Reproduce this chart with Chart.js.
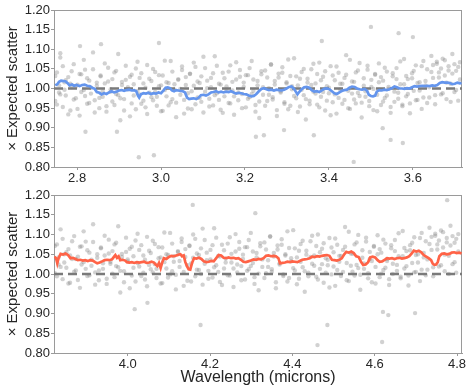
<!DOCTYPE html>
<html><head><meta charset="utf-8">
<script src="https://cdn.jsdelivr.net/npm/chart.js@4.4.1/dist/chart.umd.min.js"></script>
<style>
html,body{margin:0;padding:0;background:#fff;width:471px;height:392px;overflow:hidden}
canvas{position:absolute;left:0}
#c1{top:0;width:471px;height:190px}
#c2{top:185px;width:471px;height:207px}
</style></head>
<body>
<canvas id="c1" width="471" height="190"></canvas>
<canvas id="c2" width="471" height="207"></canvas>
<script>
// ---------- tick labels ----------
const yTicks = [0.80,0.85,0.90,0.95,1.00,1.05,1.10,1.15,1.20];
const topXTicks = [2.8,3.0,3.2,3.4,3.6];
const botXTicks = [4.0,4.2,4.4,4.6,4.8];
const topXRange = [2.745, 3.717];
const botXRange = [3.821, 4.812];
const yRange = [0.80, 1.20];
const refLevel = 1.0;

// ---------- top panel scatter ----------
const topScatterX = [2.748,2.752,2.757,2.760,2.766,2.770,2.773,2.779,2.784,2.787,
2.792,2.797,2.801,2.806,2.810,2.816,2.819,2.824,2.829,2.833,
2.838,2.842,2.847,2.853,2.856,2.861,2.866,2.870,2.874,2.880,
2.884,2.889,2.893,2.898,2.903,2.907,2.912,2.916,2.921,2.926,
2.930,2.935,2.940,2.944,2.949,2.953,2.958,2.963,2.967,2.972,
2.977,2.981,2.986,2.990,2.995,3.000,3.004,3.009,3.013,3.018,
3.023,3.027,3.032,3.036,3.041,3.046,3.050,3.055,3.059,3.064,
3.069,3.073,3.078,3.082,3.087,3.092,3.096,3.101,3.105,3.110,
3.115,3.119,3.124,3.128,3.133,3.138,3.142,3.147,3.151,3.156,
3.161,3.165,3.170,3.174,3.179,3.184,3.188,3.193,3.197,3.202,
3.207,3.211,3.216,3.220,3.225,3.230,3.234,3.239,3.243,3.248,
3.253,3.257,3.262,3.266,3.271,3.276,3.280,3.285,3.289,3.294,
3.299,3.303,3.308,3.312,3.317,3.322,3.326,3.331,3.335,3.340,
3.345,3.349,3.354,3.358,3.363,3.368,3.372,3.377,3.381,3.386,
3.391,3.395,3.400,3.404,3.409,3.414,3.418,3.423,3.427,3.432,
3.437,3.441,3.446,3.450,3.455,3.460,3.464,3.469,3.473,3.478,
3.483,3.487,3.492,3.496,3.501,3.506,3.510,3.515,3.519,3.524,
3.529,3.533,3.538,3.542,3.547,3.552,3.556,3.561,3.565,3.570,
3.575,3.579,3.584,3.588,3.593,3.598,3.602,3.607,3.611,3.616,
3.621,3.625,3.630,3.634,3.639,3.644,3.648,3.653,3.657,3.662,
3.667,3.671,3.676,3.680,3.685,3.690,3.694,3.699,3.703,3.708,3.712];
const topScatterA = [1.032,0.959,1.008,0.985,1.057,0.997,1.021,0.934,1.012,1.044,
0.972,1.005,0.948,1.037,0.991,1.073,0.981,1.026,0.963,1.002,
1.049,0.939,1.015,0.976,1.031,0.993,1.064,0.955,1.018,0.998,
0.967,1.041,0.986,1.088,0.975,1.009,0.944,1.022,1.003,0.929,
1.035,0.982,1.051,0.994,1.027,0.961,1.013,0.952,1.060,0.989,
1.019,0.970,1.042,0.979,1.006,0.942,1.033,0.996,1.016,0.957,
1.070,0.973,1.011,0.964,1.024,0.999,1.047,0.936,1.029,0.988,
1.038,0.947,1.007,1.055,0.977,1.014,0.966,1.081,0.992,1.020,
0.954,1.003,1.039,0.983,1.058,0.971,1.010,0.938,1.026,0.995,
1.043,0.962,1.017,0.980,1.067,0.990,1.030,0.950,1.004,1.034,
0.974,1.052,0.986,1.023,0.958,1.008,0.925,1.036,0.984,1.046,
0.968,1.001,1.061,0.978,1.019,0.945,1.028,0.993,1.040,0.965,
1.013,1.074,0.956,1.006,0.981,1.031,0.940,1.025,0.997,1.050,
0.973,1.015,0.960,1.009,1.063,0.987,1.037,0.952,1.021,0.991,
1.044,0.969,1.002,0.932,1.033,0.985,1.056,0.976,1.012,0.961,
1.027,1.085,0.994,0.948,1.018,0.972,1.041,0.989,1.065,0.964,
1.007,0.979,1.048,0.955,1.022,0.999,1.035,0.942,1.016,1.029,
0.967,1.053,0.982,1.004,0.953,1.039,0.992,1.024,0.974,1.069,
0.959,1.011,1.032,0.986,0.937,1.026,1.045,0.970,1.014,0.995,
1.057,0.977,1.019,0.963,1.003,1.042,1.060,0.983,1.068,1.028,
1.051,0.988,1.072,1.015,1.046,0.966,1.038,1.062,0.996,1.055,1.023];
const topScatterB = [0.968,1.041,0.990,1.079,0.953,1.016,0.982,1.029,0.944,1.004,
1.062,0.975,1.010,0.931,1.036,0.996,1.048,0.961,1.020,0.987,
1.092,0.970,1.007,0.950,1.033,0.979,1.013,0.941,1.053,0.992,
1.024,0.958,1.045,0.983,0.919,1.017,0.973,1.058,0.998,1.030,
0.962,1.011,0.947,1.068,0.985,1.039,0.969,1.002,0.935,1.025,
0.978,1.050,0.991,0.956,1.034,1.008,0.943,1.071,0.980,1.014,
0.965,1.043,0.997,0.927,1.022,0.984,1.056,0.971,1.009,0.949,
1.037,0.993,1.066,0.960,1.018,0.976,1.031,0.939,1.052,1.001,
0.974,1.027,0.957,1.082,0.988,1.012,0.946,1.040,0.980,1.005,
0.963,1.059,0.995,0.933,1.023,0.970,1.047,0.986,1.015,0.952,
1.034,0.978,1.070,0.994,0.941,1.019,0.967,1.044,1.003,0.956,
1.028,0.984,1.061,0.972,1.010,0.930,1.038,0.990,1.054,0.961,
1.016,0.947,1.032,0.998,1.077,0.975,1.008,0.954,1.042,0.983,
0.921,1.025,0.969,1.049,0.992,1.013,0.959,1.066,0.979,1.030,
0.944,1.006,0.988,1.057,0.965,1.021,0.936,1.040,0.997,1.012,
0.971,1.035,0.950,1.073,0.987,1.017,0.962,1.046,0.981,0.926,
1.026,0.993,1.058,0.968,1.004,0.945,1.037,0.984,1.064,0.958,
1.020,0.976,1.043,0.999,0.938,1.031,0.966,1.052,0.989,1.011,
0.955,1.075,0.980,1.024,0.962,1.039,0.994,1.059,0.971,1.016,
0.948,1.070,1.008,1.049,0.977,1.083,1.027,0.960,1.063,1.041,
0.985,1.076,1.033,0.973,1.057,1.012,1.088,0.991,1.045,0.969,1.067];
const topOutlierX = [2.760,2.807,2.857,2.995,2.820,2.895,2.947,2.983,3.459,3.500,3.566,3.226,3.383,3.245,3.576,3.547,3.293,3.364,3.528,3.600];
const topOutlierY = [1.090,1.108,1.113,1.116,0.890,0.890,0.825,0.830,0.813,1.157,1.141,0.877,1.121,0.881,0.861,0.869,0.894,0.881,0.899,1.131];

// ---------- top panel running line (blue) ----------
const blueX = [2.748,2.753,2.757,2.762,2.768,2.773,2.778,2.782,2.788,2.793,2.799,2.806,2.812,2.818,2.824,2.830,2.836,2.842,2.847,2.853,
2.858,2.864,2.870,2.876,2.882,2.888,2.894,2.900,2.906,2.912,2.918,2.924,2.930,2.936,2.941,2.945,2.948,2.952,2.958,2.964,
2.970,2.976,2.982,2.988,2.994,3.000,3.006,3.011,3.016,3.021,3.026,3.031,3.036,3.041,3.046,3.052,3.057,3.062,3.067,3.072,
3.078,3.084,3.090,3.095,3.101,3.107,3.113,3.119,3.125,3.131,3.137,3.143,3.149,3.155,3.161,3.167,3.173,3.179,3.185,3.191,
3.197,3.203,3.209,3.215,3.221,3.227,3.233,3.239,3.245,3.251,3.257,3.263,3.269,3.275,3.281,3.287,3.293,3.299,3.305,3.311,
3.317,3.321,3.325,3.329,3.335,3.341,3.347,3.353,3.359,3.365,3.371,3.377,3.383,3.389,3.395,3.401,3.407,3.413,3.419,3.425,
3.431,3.437,3.443,3.449,3.455,3.461,3.467,3.473,3.479,3.485,3.491,3.495,3.500,3.505,3.510,3.514,3.520,3.526,3.532,3.538,
3.544,3.550,3.556,3.562,3.568,3.574,3.580,3.586,3.592,3.598,3.604,3.610,3.616,3.622,3.628,3.634,3.640,3.646,3.652,3.658,
3.664,3.670,3.676,3.682,3.688,3.694,3.700,3.706,3.712,3.716];
const blueY = [1.008,1.011,1.017,1.020,1.019,1.018,1.013,1.008,1.010,1.007,1.009,1.006,1.009,1.010,1.007,1.006,1.002,0.999,0.991,0.989,
0.985,0.988,0.986,0.990,0.993,0.990,0.992,0.995,0.996,0.994,0.996,0.997,0.995,0.996,0.993,0.982,0.977,0.985,0.988,0.987,
0.989,0.986,0.988,0.987,0.990,0.988,0.995,1.002,1.003,1.001,0.995,0.993,0.996,0.995,0.994,0.993,0.990,0.977,0.973,0.974,
0.975,0.973,0.977,0.983,0.984,0.982,0.985,0.990,0.991,0.993,0.990,0.992,0.990,0.992,0.991,0.993,0.990,0.987,0.989,0.988,
0.986,0.985,0.982,0.980,0.981,0.986,0.993,0.999,1.001,0.998,0.996,0.997,0.995,0.997,0.996,0.995,0.997,1.000,1.004,1.005,
0.999,0.992,0.985,0.991,0.998,1.003,1.004,1.002,0.996,0.992,0.993,0.991,0.995,0.999,1.000,0.998,0.993,0.988,0.986,0.990,
0.994,0.996,0.997,1.002,1.005,1.004,1.000,0.998,0.997,0.999,0.994,0.984,0.981,0.980,0.982,0.992,0.996,0.995,0.997,0.996,
0.998,1.001,1.005,1.003,1.000,1.000,0.999,1.001,1.000,1.003,1.006,1.005,1.006,1.007,1.006,1.007,1.006,1.008,1.007,1.009,
1.014,1.016,1.015,1.015,1.014,1.011,1.012,1.015,1.013,1.014];

// ---------- bottom panel scatter ----------
const botScatterX = [3.823,3.828,3.832,3.837,3.842,3.846,3.851,3.856,3.860,3.865,
3.870,3.874,3.879,3.884,3.888,3.893,3.898,3.902,3.907,3.912,
3.916,3.921,3.926,3.930,3.935,3.940,3.944,3.949,3.954,3.958,
3.963,3.968,3.972,3.977,3.982,3.986,3.991,3.996,4.000,4.005,
4.010,4.014,4.019,4.024,4.028,4.033,4.038,4.042,4.047,4.052,
4.056,4.061,4.066,4.070,4.075,4.080,4.084,4.089,4.094,4.098,
4.103,4.108,4.112,4.117,4.122,4.126,4.131,4.136,4.140,4.145,
4.150,4.154,4.159,4.164,4.168,4.173,4.178,4.182,4.187,4.192,
4.196,4.201,4.206,4.210,4.215,4.220,4.224,4.229,4.234,4.238,
4.243,4.248,4.252,4.257,4.262,4.266,4.271,4.276,4.280,4.285,
4.290,4.294,4.299,4.304,4.308,4.313,4.318,4.322,4.327,4.332,
4.336,4.341,4.346,4.350,4.355,4.360,4.364,4.369,4.374,4.378,
4.383,4.388,4.392,4.397,4.402,4.406,4.411,4.416,4.420,4.425,
4.430,4.434,4.439,4.444,4.448,4.453,4.458,4.462,4.467,4.472,
4.476,4.481,4.486,4.490,4.495,4.500,4.504,4.509,4.514,4.518,
4.523,4.528,4.532,4.537,4.542,4.546,4.551,4.556,4.560,4.565,
4.570,4.574,4.579,4.584,4.588,4.593,4.598,4.602,4.607,4.612,
4.616,4.621,4.626,4.630,4.635,4.640,4.644,4.649,4.654,4.658,
4.663,4.668,4.672,4.677,4.682,4.686,4.691,4.696,4.700,4.705,
4.710,4.714,4.719,4.724,4.728,4.733,4.738,4.742,4.747,4.752,
4.756,4.761,4.766,4.770,4.775,4.780,4.784,4.789,4.794,4.798,4.803];
const botScatterA = [1.071,0.994,1.042,1.018,1.089,1.029,1.055,0.976,1.047,1.083,
1.006,1.038,0.985,1.069,1.024,1.108,1.013,1.060,0.997,1.036,
1.081,0.973,1.050,1.009,1.065,1.027,1.097,0.988,1.052,1.031,
1.001,1.075,1.020,1.121,1.008,1.043,0.979,1.056,1.037,0.964,
1.069,1.016,1.085,1.028,1.061,0.995,1.047,0.986,1.094,1.023,
1.053,1.004,1.076,1.013,1.040,0.976,1.067,1.030,1.050,0.991,
1.104,1.007,1.045,0.998,1.058,1.033,1.081,0.970,1.063,1.022,
1.072,0.981,1.041,1.089,1.011,1.048,1.000,1.115,1.026,1.054,
0.988,1.037,1.073,1.017,1.092,1.005,1.044,0.972,1.060,1.029,
1.077,0.996,1.051,1.014,1.101,1.024,1.064,0.984,1.038,1.068,
1.008,1.086,1.020,1.057,0.992,1.042,0.959,1.070,1.018,1.080,
1.002,1.035,1.095,1.012,1.053,0.979,1.062,1.027,1.074,0.999,
1.047,1.108,0.990,1.040,1.015,1.065,0.974,1.059,1.031,1.084,
1.007,1.049,0.994,1.043,1.097,1.021,1.071,0.986,1.055,1.025,
1.078,1.003,1.036,0.966,1.067,1.019,1.090,1.010,1.046,0.995,
1.061,1.119,1.028,0.982,1.052,1.006,1.075,1.023,1.099,0.998,
1.041,1.013,1.082,0.989,1.056,1.033,1.069,0.976,1.050,1.063,
1.001,1.087,1.016,1.038,0.987,1.073,1.026,1.058,1.008,1.103,
0.993,1.045,1.066,1.020,0.971,1.060,1.079,1.004,1.048,1.029,
1.091,1.011,1.053,0.997,1.037,1.076,1.094,1.017,1.102,1.062,
1.085,1.022,1.106,1.049,1.080,1.000,1.072,1.096,1.030,1.089,1.057];
const botScatterB = [1.002,1.075,1.024,1.113,0.987,1.050,1.016,1.063,0.978,1.038,
1.096,1.009,1.044,0.965,1.070,1.030,1.082,0.995,1.054,1.021,
1.126,1.004,1.041,0.984,1.067,1.013,1.047,0.975,1.087,1.026,
1.058,0.992,1.079,1.017,0.953,1.051,1.007,1.092,1.032,1.064,
0.996,1.045,0.981,1.102,1.019,1.073,1.003,1.036,0.969,1.059,
1.012,1.084,1.025,0.990,1.068,1.042,0.977,1.105,1.014,1.048,
0.999,1.077,1.031,0.961,1.056,1.018,1.090,1.005,1.043,0.983,
1.071,1.027,1.100,0.994,1.052,1.010,1.065,0.973,1.086,1.035,
1.008,1.061,0.991,1.116,1.022,1.046,0.980,1.074,1.014,1.039,
0.997,1.093,1.029,0.967,1.057,1.004,1.081,1.020,1.049,0.986,
1.068,1.012,1.104,1.028,0.975,1.053,1.001,1.078,1.037,0.990,
1.062,1.018,1.095,1.006,1.044,0.964,1.072,1.024,1.088,0.995,
1.050,0.981,1.066,1.032,1.111,1.009,1.042,0.988,1.076,1.017,
0.955,1.059,1.003,1.083,1.026,1.047,0.993,1.100,1.013,1.064,
0.978,1.040,1.022,1.091,0.999,1.055,0.970,1.074,1.031,1.046,
1.005,1.069,0.984,1.107,1.021,1.051,0.996,1.080,1.015,0.960,
1.060,1.027,1.092,1.002,1.038,0.979,1.071,1.018,1.098,0.992,
1.054,1.010,1.077,1.033,0.972,1.065,1.000,1.086,1.023,1.045,
0.989,1.109,1.014,1.058,0.996,1.073,1.028,1.093,1.005,1.050,
0.982,1.104,1.042,1.083,1.011,1.117,1.061,0.994,1.097,1.075,
1.019,1.110,1.067,1.007,1.091,1.046,1.122,1.025,1.079,1.003,1.101];
const botOutlierX = [4.158,4.017,4.177,4.048,4.485,4.461,4.618,4.620,4.633,4.698,4.776,4.310];
const botOutlierY = [1.175,0.911,0.871,0.927,0.871,0.820,0.828,0.904,0.896,0.901,1.187,1.154];

// ---------- bottom panel running line (red) ----------
const redX = [3.822,3.826,3.829,3.832,3.837,3.843,3.849,3.855,3.861,3.867,3.873,3.879,3.885,3.891,3.897,3.903,3.909,3.915,3.921,3.926,
3.932,3.938,3.944,3.950,3.956,3.962,3.967,3.970,3.974,3.978,3.982,3.988,3.994,3.998,4.004,4.010,4.016,4.022,4.028,4.034,
4.040,4.046,4.052,4.058,4.064,4.068,4.072,4.076,4.080,4.084,4.088,4.094,4.100,4.106,4.112,4.118,4.124,4.128,4.132,4.136,
4.140,4.144,4.148,4.152,4.156,4.161,4.167,4.173,4.179,4.185,4.191,4.197,4.203,4.209,4.215,4.221,4.227,4.233,4.239,4.245,
4.251,4.257,4.263,4.269,4.275,4.281,4.287,4.293,4.299,4.306,4.312,4.318,4.324,4.330,4.336,4.342,4.348,4.354,4.360,4.366,
4.370,4.376,4.382,4.388,4.394,4.400,4.406,4.412,4.418,4.424,4.430,4.436,4.442,4.448,4.454,4.460,4.466,4.472,4.478,4.484,
4.490,4.496,4.502,4.508,4.514,4.520,4.526,4.531,4.537,4.543,4.549,4.555,4.561,4.567,4.572,4.578,4.584,4.589,4.595,4.601,
4.607,4.612,4.618,4.624,4.630,4.636,4.642,4.648,4.654,4.660,4.666,4.672,4.678,4.684,4.690,4.695,4.701,4.707,4.713,4.719,
4.725,4.731,4.737,4.741,4.745,4.749,4.753,4.757,4.763,4.769,4.775,4.781,4.787,4.793,4.799,4.805,4.811];
const redY = [1.044,1.040,1.027,1.040,1.051,1.049,1.052,1.048,1.040,1.041,1.038,1.035,1.036,1.034,1.035,1.033,1.035,1.034,1.030,1.027,
1.029,1.032,1.035,1.036,1.035,1.037,1.044,1.048,1.041,1.045,1.035,1.036,1.034,1.030,1.029,1.030,1.028,1.030,1.029,1.030,
1.031,1.028,1.029,1.031,1.029,1.024,1.020,1.028,1.015,1.030,1.040,1.038,1.043,1.046,1.045,1.047,1.049,1.050,1.045,1.047,
1.030,1.020,1.012,1.011,1.027,1.040,1.039,1.041,1.038,1.032,1.030,1.031,1.033,1.032,1.040,1.048,1.047,1.041,1.040,1.042,
1.040,1.041,1.039,1.040,1.036,1.031,1.030,1.032,1.034,1.037,1.036,1.038,1.037,1.040,1.046,1.047,1.045,1.046,1.045,1.040,
1.027,1.028,1.029,1.031,1.030,1.032,1.031,1.030,1.033,1.036,1.037,1.038,1.040,1.044,1.043,1.045,1.044,1.046,1.047,1.048,
1.046,1.036,1.035,1.034,1.036,1.040,1.050,1.056,1.054,1.057,1.053,1.045,1.043,1.030,1.023,1.024,1.030,1.042,1.044,1.042,
1.035,1.031,1.032,1.036,1.040,1.039,1.040,1.038,1.040,1.041,1.039,1.040,1.042,1.045,1.052,1.059,1.057,1.059,1.055,1.048,
1.044,1.040,1.035,1.026,1.023,1.024,1.030,1.045,1.051,1.052,1.050,1.051,1.054,1.055,1.053,1.054,1.052];

// ---------- drawing ----------
Chart.defaults.font.family = "'Liberation Sans', Arial, Helvetica, sans-serif";
const dotColor = 'rgba(120,120,120,0.34)';
const spine = '#9a9a9a';
const txt = '#262626';

const pts = (xs, ys) => xs.map((x, i) => ({x: x, y: ys[i]}));

const framePlugin = {
  id: 'frame',
  beforeDatasetsDraw(chart) {
    const a = chart.chartArea, c = chart.ctx;
    c.save();
    c.strokeStyle = spine; c.lineWidth = 1;
    c.strokeRect(a.left + 0.5, a.top + 0.5, a.right - a.left - 1, a.bottom - a.top);
    c.restore();
  }
};

function panel(id, o) {
  return new Chart(document.getElementById(id), {
    type: 'scatter',
    data: { datasets: [
      {type: 'line', data: pts(o.lineX, o.lineY), borderColor: o.color, borderWidth: 2.7,
       pointRadius: 0, fill: false, tension: 0, borderJoinStyle: 'miter', order: 0},
      {type: 'line', data: [{x: o.xr[0], y: refLevel}, {x: o.xr[1], y: refLevel}], borderColor: '#7a7a7a',
       borderWidth: 2.6, borderDash: [9, 5], pointRadius: 0, fill: false, order: 1},
      {data: pts(o.sx, o.sa), pointRadius: 2.2, backgroundColor: dotColor, borderWidth: 0, order: 2},
      {data: pts(o.sx, o.sb), pointRadius: 2.2, backgroundColor: dotColor, borderWidth: 0, order: 3},
      {data: pts(o.ox, o.oy), pointRadius: 2.2, backgroundColor: dotColor, borderWidth: 0, order: 4}
    ]},
    options: {
      responsive: false, animation: false, devicePixelRatio: 1,
      layout: {padding: {top: 10, right: 9, left: 0, bottom: 0}},
      plugins: {legend: {display: false}, tooltip: {enabled: false}},
      scales: {
        x: {
          type: 'linear', min: o.xr[0], max: o.xr[1],
          afterBuildTicks: s => { s.ticks = o.xTicks.map(v => ({value: v})); },
          afterFit: s => { s.height = o.xH; },
          ticks: {callback: v => Number(v).toFixed(1), padding: 1, color: txt, font: {size: 13}, maxRotation: 0, autoSkip: false},
          grid: {drawOnChartArea: false, drawTicks: true, tickLength: 3, color: spine},
          border: {display: true, color: spine, width: 1},
          title: o.xTitle ? {display: true, text: o.xTitle, color: txt, font: {size: 16}, padding: {top: 0, bottom: 5}} : {display: false}
        },
        y: {
          type: 'linear', min: yRange[0], max: yRange[1],
          afterBuildTicks: s => { s.ticks = yTicks.map(v => ({value: v})); },
          afterFit: s => { s.width = 54; },
          ticks: {callback: v => Number(v).toFixed(2), padding: 1, color: txt, font: {size: 13}, autoSkip: false},
          grid: {drawOnChartArea: false, drawTicks: true, tickLength: 3, color: spine},
          border: {display: true, color: spine, width: 1},
          title: {display: true, text: '× Expected scatter', color: txt, font: {size: 15}, padding: {top: 4, bottom: 0}}
        }
      }
    },
    plugins: [framePlugin]
  });
}

panel('c1', {lineX: blueX, lineY: blueY, color: '#6495ed', xr: topXRange, xTicks: topXTicks,
  sx: topScatterX, sa: topScatterA, sb: topScatterB, ox: topOutlierX, oy: topOutlierY, xH: 23});
panel('c2', {lineX: redX, lineY: redY, color: '#ff6347', xr: botXRange, xTicks: botXTicks,
  sx: botScatterX, sa: botScatterA, sb: botScatterB, ox: botOutlierX, oy: botOutlierY, xH: 39,
  xTitle: 'Wavelength (microns)'});
</script>
</body></html>
